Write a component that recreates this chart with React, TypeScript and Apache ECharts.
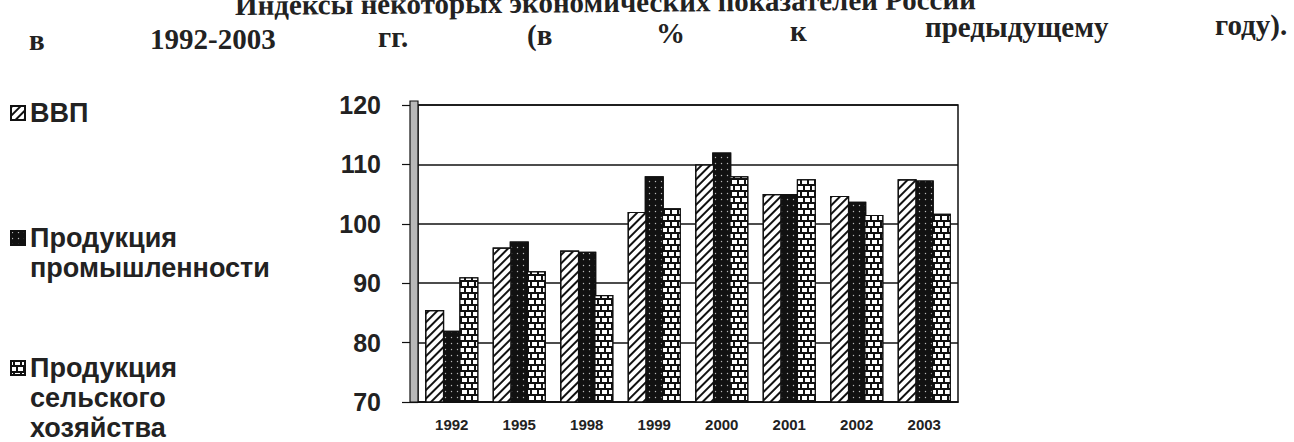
import React, { useEffect, useRef } from "react";
import * as echarts from "echarts";

const categories = ["1992", "1995", "1998", "1999", "2000", "2001", "2002", "2003"];
const gdp = [85.5, 96, 95.5, 102, 110, 105, 104.7, 107.5];
const industry = [82, 97, 95.3, 108, 112, 105, 103.7, 107.3];
const agriculture = [91, 92, 88, 102.6, 108, 107.5, 101.5, 101.7];
const seriesNames = ["ВВП", "Продукция промышленности", "Продукция сельского хозяйства"];
const yTicks = { min: 70, max: 120, interval: 10 };
const titleLine1 = "Индексы некоторых экономических показателей России";
const titleWords = ["в", "1992-2003", "гг.", "(в", "%", "к", "предыдущему", "году)."];

const SANS = '"Liberation Sans", Arial, sans-serif';
const SERIF = '"Liberation Serif", "Times New Roman", serif';

export default function App() {
  const ref = useRef<HTMLDivElement>(null);
  useEffect(() => {
    if (!ref.current) return;
    const chart = echarts.init(ref.current, undefined, { renderer: "svg" });
    const wordPos = [
      [29, 49], [150, 48], [378, 46], [527, 44], [656, 42], [790, 40], [925, 36], [1215, 34],
    ];
    const legendText = {
      fontSize: 27,
      fontWeight: "bold",
      fontFamily: SANS,
      color: "#222",
      lineHeight: 30,
    };
    const legendBase = {
      orient: "vertical",
      left: 10,
      padding: 0,
      itemWidth: 14,
      itemHeight: 14,
      itemGap: 0,
      icon: "rect",
      textStyle: legendText,
      formatter: (n: string) => {
        const parts = n.split(" ");
        return "\n".repeat(parts.length - 1) + parts.join("\n");
      },
    };
    const titleStyle = {
      fontSize: 29,
      fontWeight: "bold",
      fontFamily: SERIF,
      fill: "#222",
      textAlign: "left",
      textVerticalAlign: "middle",
    };
    const option: any = {
      animation: false,
      backgroundColor: "#fff",
      aria: { enabled: true, decal: { show: true } },
      legend: [
        { ...legendBase, data: [seriesNames[0]], top: 98 },
        { ...legendBase, data: [seriesNames[1]], top: 193 },
        { ...legendBase, data: [seriesNames[2]], top: 293 },
      ],
      grid: {
        left: 418,
        top: 105,
        width: 540,
        height: 297,
        show: true,
        borderColor: "#111",
        borderWidth: 1.5,
        backgroundColor: "#fff",
      },
      xAxis: {
        type: "category",
        data: categories,
        axisLine: { show: true, lineStyle: { color: "#111", width: 1.5 } },
        axisTick: { show: false },
        axisLabel: {
          fontSize: 15,
          fontWeight: "bold",
          fontFamily: SANS,
          color: "#222",
          margin: 15,
        },
      },
      yAxis: {
        type: "value",
        min: yTicks.min,
        max: yTicks.max,
        interval: yTicks.interval,
        axisLine: { show: false },
        axisTick: { show: true, length: 16, lineStyle: { color: "#111", width: 1.2 } },
        splitLine: { show: true, lineStyle: { color: "#111", width: 1.5 } },
        axisLabel: {
          fontSize: 25,
          fontWeight: "bold",
          fontFamily: SANS,
          color: "#222",
          margin: 37,
        },
      },
      series: [
        {
          name: seriesNames[0],
          type: "bar",
          data: gdp,
          barWidth: 19,
          barGap: "-10%",
          z: 3,
          itemStyle: {
            color: "#fff",
            borderColor: "#111",
            borderWidth: 1.2,
            decal: {
              color: "#111",
              symbol: "rect",
              symbolSize: 1,
              dashArrayX: [1, 0],
              dashArrayY: [2, 4],
              rotation: -Math.PI / 4,
            },
          },
        },
        {
          name: seriesNames[1],
          type: "bar",
          data: industry,
          barWidth: 19,
          barGap: "-10%",
          z: 2,
          itemStyle: {
            color: "#111",
            borderColor: "#111",
            borderWidth: 1.2,
            decal: {
              color: "#bbb",
              symbol: "circle",
              symbolSize: 0.45,
              dashArrayX: [3, 3],
              dashArrayY: [3, 3],
              rotation: 0,
            },
          },
        },
        {
          name: seriesNames[2],
          type: "bar",
          data: agriculture,
          barWidth: 19,
          barGap: "-10%",
          z: 3,
          itemStyle: {
            color: "#111",
            borderColor: "#111",
            borderWidth: 1.2,
            decal: {
              color: "#fff",
              symbol: "rect",
              symbolSize: 1,
              dashArrayX: [[5, 2], [2, 2, 3, 0]],
              dashArrayY: [4, 2],
              rotation: 0,
            },
          },
        },
      ],
      graphic: [
        {
          type: "rect",
          z: 100,
          shape: { x: 410, y: 101, width: 8, height: 301 },
          style: { fill: "#b8b8b8", stroke: "#111", lineWidth: 1.2 },
        },
        {
          type: "text",
          x: 235,
          y: 5,
          rotation: 0.008,
          style: { ...titleStyle, text: titleLine1 },
        },
        ...titleWords.map((w, i) => ({
          type: "text",
          x: wordPos[i][0],
          y: wordPos[i][1] - 9,
          style: { ...titleStyle, text: w },
        })),
      ],
    };
    chart.setOption(option);
    return () => chart.dispose();
  }, []);
  return (
    <div
      ref={ref}
      style={{ position: "absolute", left: 0, top: 0, width: 1294, height: 442 }}
    />
  );
}
